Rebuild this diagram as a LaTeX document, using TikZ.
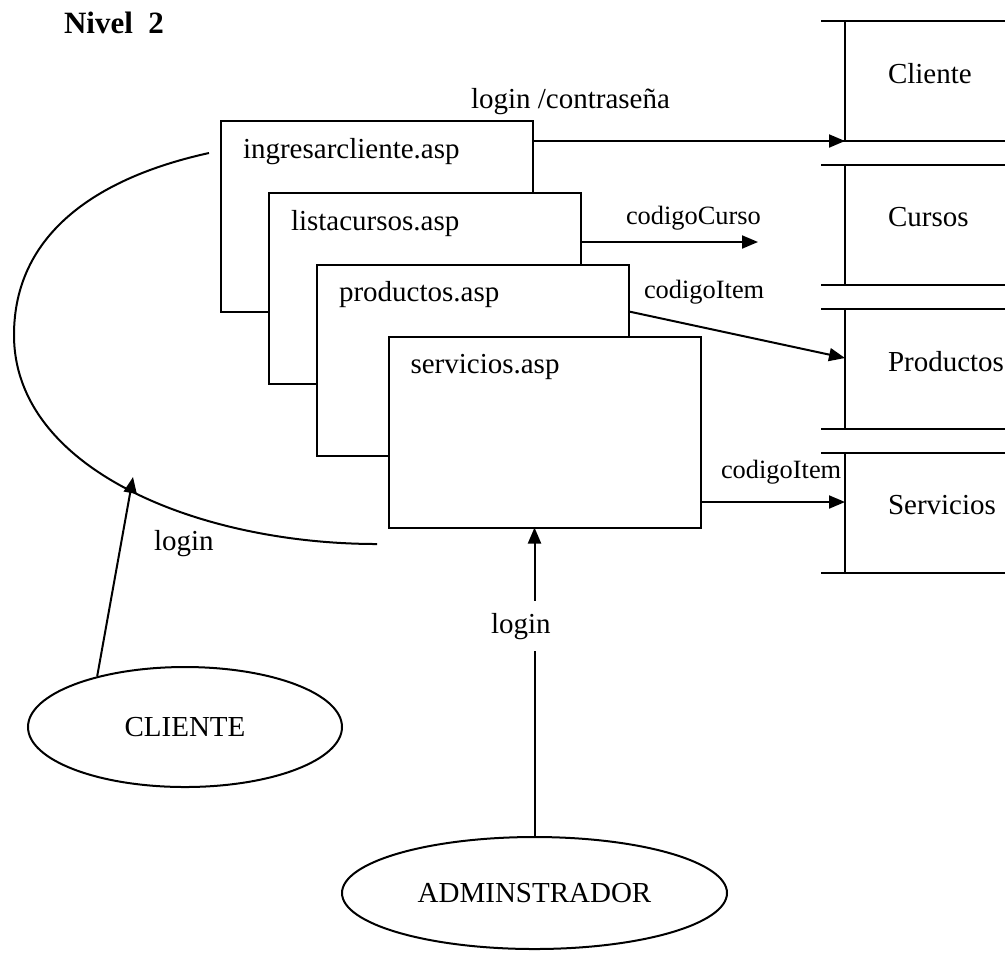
\documentclass[tikz,border=0pt]{standalone}
\usepackage{fontspec}
\setmainfont{Liberation Serif}
\usetikzlibrary{arrows.meta,shapes.geometric}
\newcommand{\grande}{\fontsize{14.5pt}{17pt}\selectfont}
\newcommand{\chica}{\fontsize{13.2pt}{16pt}\selectfont}

\begin{document}
\begin{tikzpicture}[x=0.5pt,y=-0.5pt,line width=1pt,
    pagina/.style={draw,fill=white,rectangle,minimum width=156pt,minimum height=95.5pt,inner sep=0pt,outer sep=0pt},
    rotulo/.style={anchor=base west,inner sep=0pt,xshift=10.5pt,yshift=-18.5pt,font=\grande},
    almacen/.style={anchor=north west,minimum width=113pt,minimum height=60pt,text width=70pt,align=left,
        inner xsep=21.5pt,inner ysep=0pt,text depth=8pt,outer sep=0pt,font=\grande},
    entidad/.style={draw,ellipse,inner sep=0pt,font=\grande},
    etiq/.style={anchor=base west,inner sep=0pt,font=\grande},
    etiqchica/.style={anchor=base west,inner sep=0pt,font=\chica},
    flecha/.style={-{Triangle[length=8pt,width=6.5pt]}}]
            \useasboundingbox (0,0) rectangle (1005,955);
            \node[anchor=base west,inner sep=0pt,font=\bfseries\fontsize{15.5pt}{18pt}\selectfont] (nivel) at (63,33) {Nivel\ \ 2};

            \node[pagina,label={[rotulo]north west:ingresarcliente.asp}] (ingresar) at (377,216.5) {};
            \node[pagina,label={[rotulo]north west:listacursos.asp}]     (lista)    at (425,288.5) {};
            \node[pagina,label={[rotulo]north west:productos.asp}]       (prod)     at (473,360)   {};
            \node[pagina,label={[rotulo]north west:servicios.asp}]       (serv)     at (544.5,432) {};

            \node[almacen] (cli)     at (845,21)  {Cliente};
            \node[almacen] (cur)     at (845,165) {Cursos};
            \node[almacen] (prodalm) at (845,309) {Productos};
            \node[almacen] (servalm) at (845,453) {Servicios};
            \foreach \s in {cli,cur,prodalm,servalm} {
                \draw ([xshift=-12pt]\s.north west) -- (\s.north east);
                \draw ([xshift=-12pt]\s.south west) -- (\s.south east);
                \draw (\s.north west) -- (\s.south west);
            }

            \node[entidad,minimum width=157pt,minimum height=60pt]   (cliente) at (185,727)   {CLIENTE};
            \node[entidad,minimum width=192.5pt,minimum height=56pt] (admin)   at (534.5,893) {ADMINSTRADOR};

            \draw (209,153) .. controls (95,178) and (14,235) .. (14,335)
                  .. controls (14,470) and (200,544) .. (377,544);
            \coordinate (llegada) at (133,477);
            \coordinate (finCurso) at (758,242);
            \coordinate (llegaServ) at ([yshift=5.5pt]servalm.west);

            \draw[flecha] (ingresar.east |- cli.south west) -- (cli.south west);
            \draw[flecha] (lista.east |- finCurso) -- (finCurso);
            \draw[flecha] ([yshift=-23.5pt]prod.north east) -- ([yshift=5.5pt]prodalm.west);
            \draw[flecha] (serv.east |- llegaServ) -- (llegaServ);
            \draw[flecha] (admin.north) -- (admin.north |- serv.south);
            \draw[flecha] (cliente.150) -- (llegada);

            \node[etiq] (lclave) at (470,108) {login /contraseña};
            \node[etiqchica] (lcurso) at (625,224) {codigoCurso};
            \node[etiqchica] (litem)  at (643,298) {codigoItem};
            \node[etiqchica] (litemserv) at (720,478) {codigoItem};
            \node[etiq] (lcli) at (153,550) {login};
            \node[etiq,fill=white,inner ysep=6pt] (ladmin) at (490,633) {login};
        \end{tikzpicture}
\end{document}
